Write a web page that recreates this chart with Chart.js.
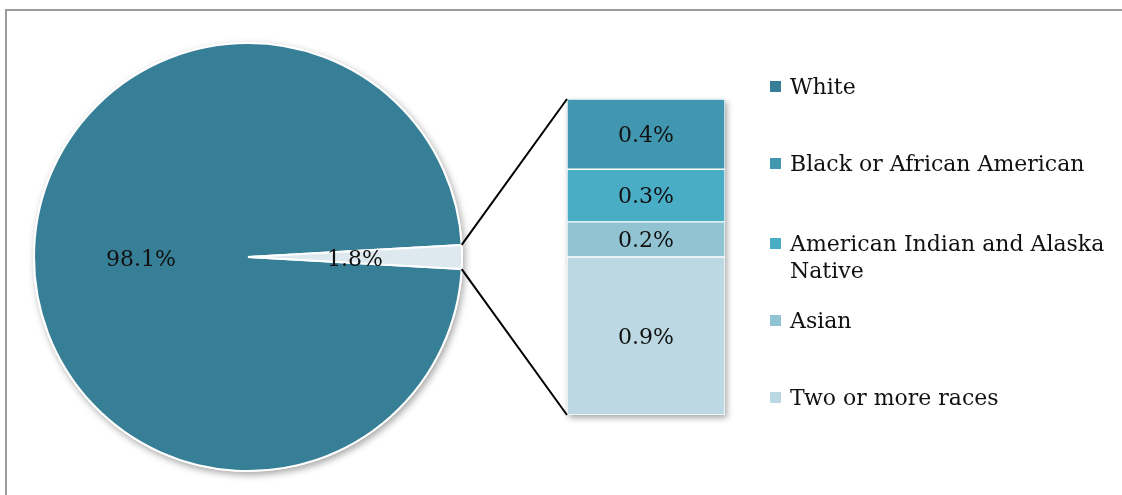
<!DOCTYPE html>
<html lang="en">
<head>
    <meta charset="UTF-8">
    <title>Population by race</title>
    <style>
        html, body {
            margin: 0;
            padding: 0;
            background: #fff;
            overflow: hidden;
        }
        #wrap {
            position: relative;
            width: 1122px;
            height: 495px;
            font-family: "DejaVu Serif", serif;
        }
        #frame {
            position: absolute;
            left: 5px;
            top: 9px;
            width: 1140px;
            height: 520px;
            border: 2px solid #9c9c9c;
            box-sizing: border-box;
        }
        canvas {
            position: absolute;
            left: 0;
            top: 0;
        }
        .item {
            position: absolute;
            left: 770px;
            font-size: 22px;
            line-height: 27px;
            color: #111;
        }
        .item span.box {
            position: absolute;
            left: 0;
            top: 8px;
            width: 11px;
            height: 11px;
        }
        .item span.txt {
            display: block;
            margin-left: 20px;
            width: 325px;
        }
    </style>
</head>
<body>
    <div id="wrap">
        <div id="frame"></div>
        <canvas id="pie" width="1122" height="495"></canvas>
        <canvas id="bar" width="1122" height="495"></canvas>
        <div id="legend"></div>
    </div>

    <script src="https://cdn.jsdelivr.net/npm/chart.js"></script>
    <script>
        // data
        const pieLabels = ['White', 'Other races'];
        const pieValues = [98.1, 1.8];
        const barLabels = ['Black or African American', 'American Indian and Alaska Native', 'Asian', 'Two or more races'];
        const barValues = [0.4, 0.3, 0.2, 0.9];
        const legendLabels = ['White', 'Black or African American', 'American Indian and Alaska Native', 'Asian', 'Two or more races'];

        // colours
        const pieColors = ['#377f96', '#dde9ef'];
        const barColors = ['#4297b0', '#4aadc6', '#92c3d3', '#bcd8e2'];
        const legendColors = ['#377f96', '#4297b0', '#4aadc6', '#92c3d3', '#bcd8e2'];
        const legendTops = [73, 150, 230, 307, 384];

        const font = '22px "DejaVu Serif", serif';

        // shadow behind the pie
        const pieShadow = {
            id: 'pieShadow',
            beforeDatasetsDraw(chart) {
                let arc = chart.getDatasetMeta(0).data[0];
                let ctx = chart.ctx;
                ctx.save();
                ctx.shadowColor = 'rgba(0,0,0,0.35)';
                ctx.shadowBlur = 7;
                ctx.shadowOffsetX = 2;
                ctx.shadowOffsetY = 3;
                ctx.fillStyle = '#fff';
                ctx.beginPath();
                ctx.arc(arc.x, arc.y, arc.outerRadius + 1, 0, Math.PI * 2);
                ctx.fill();
                ctx.restore();
            },
            afterDatasetsDraw(chart) {
                let ctx = chart.ctx;
                ctx.save();
                ctx.font = font;
                ctx.fillStyle = '#111';
                ctx.textAlign = 'center';
                ctx.textBaseline = 'middle';
                chart.getDatasetMeta(0).data.forEach((arc, i) => {
                    let mid = (arc.startAngle + arc.endAngle) / 2;
                    let r = arc.outerRadius * 0.5;
                    ctx.fillText(pieValues[i].toFixed(1) + '%', arc.x + Math.cos(mid) * r, arc.y + 3 + Math.sin(mid) * r);
                });
                ctx.restore();
            }
        };

        let total = pieValues.reduce((a, b) => a + b, 0);
        // turn the pie so the small slice sits at 3 o'clock
        let rotation = 90 - 360 * (pieValues[0] + pieValues[1] / 2) / total;

        let pieChart = new Chart(document.getElementById('pie'), {
            type: 'pie',
            data: {
                labels: pieLabels,
                datasets: [{
                    data: pieValues,
                    backgroundColor: pieColors,
                    borderColor: '#fff',
                    borderWidth: 2
                }]
            },
            options: {
                responsive: false,
                animation: false,
                events: [],
                rotation: rotation,
                layout: { padding: { left: 33, top: 42, right: 1122 - 463, bottom: 495 - 472 } },
                plugins: { legend: { display: false }, tooltip: { enabled: false } }
            },
            plugins: [pieShadow]
        });

        // bar: shadow, labels and the two connector lines
        const barExtras = {
            id: 'barExtras',
            beforeDatasetsDraw(chart) {
                let ctx = chart.ctx;
                ctx.save();
                ctx.shadowColor = 'rgba(0,0,0,0.35)';
                ctx.shadowBlur = 6;
                ctx.shadowOffsetX = 2;
                ctx.shadowOffsetY = 3;
                ctx.fillStyle = '#fff';
                let first = chart.getDatasetMeta(0).data[0];
                let last = chart.getDatasetMeta(chart.data.datasets.length - 1).data[0];
                ctx.fillRect(first.x - first.width / 2, last.y, first.width, first.base - last.y);
                ctx.restore();
            },
            afterDatasetsDraw(chart) {
                let ctx = chart.ctx;
                ctx.save();
                ctx.font = font;
                ctx.fillStyle = '#111';
                ctx.textAlign = 'center';
                ctx.textBaseline = 'middle';
                chart.data.datasets.forEach((ds, i) => {
                    let el = chart.getDatasetMeta(i).data[0];
                    ctx.fillText(ds.data[0].toFixed(1) + '%', el.x, (el.y + el.base) / 2 + 2);
                });

                // connectors from the small slice to the bar
                let arc = pieChart.getDatasetMeta(0).data[1];
                let first = chart.getDatasetMeta(0).data[0];
                let last = chart.getDatasetMeta(chart.data.datasets.length - 1).data[0];
                let left = first.x - first.width / 2;
                ctx.strokeStyle = '#000';
                ctx.lineWidth = 2;
                ctx.beginPath();
                ctx.moveTo(arc.x + Math.cos(arc.startAngle) * arc.outerRadius, arc.y + Math.sin(arc.startAngle) * arc.outerRadius);
                ctx.lineTo(left, last.y);
                ctx.moveTo(arc.x + Math.cos(arc.endAngle) * arc.outerRadius, arc.y + Math.sin(arc.endAngle) * arc.outerRadius);
                ctx.lineTo(left, first.base);
                ctx.stroke();
                ctx.restore();
            }
        };

        // stacked from the bottom up: last value first
        let barDatasets = [];
        for (let i = barValues.length - 1; i >= 0; i--) {
            barDatasets.push({
                label: barLabels[i],
                data: [barValues[i]],
                backgroundColor: barColors[i],
                borderColor: '#fff',
                borderWidth: 1,
                borderSkipped: false,
                barPercentage: 1,
                categoryPercentage: 1
            });
        }

        new Chart(document.getElementById('bar'), {
            type: 'bar',
            data: {
                labels: [''],
                datasets: barDatasets
            },
            options: {
                responsive: false,
                animation: false,
                events: [],
                layout: { padding: { left: 567, top: 99, right: 1122 - 725, bottom: 495 - 415 } },
                scales: {
                    x: { stacked: true, display: false },
                    y: { stacked: true, display: false, min: 0, max: barValues.reduce((a, b) => a + b, 0) }
                },
                plugins: { legend: { display: false }, tooltip: { enabled: false } }
            },
            plugins: [barExtras]
        });

        // legend
        let legend = document.getElementById('legend');
        legendLabels.forEach((name, i) => {
            let item = document.createElement('div');
            item.className = 'item';
            item.style.top = legendTops[i] + 'px';
            item.innerHTML = '<span class="box" style="background:' + legendColors[i] + '"></span><span class="txt">' + name + '</span>';
            legend.appendChild(item);
        });
    </script>
</body>
</html>
